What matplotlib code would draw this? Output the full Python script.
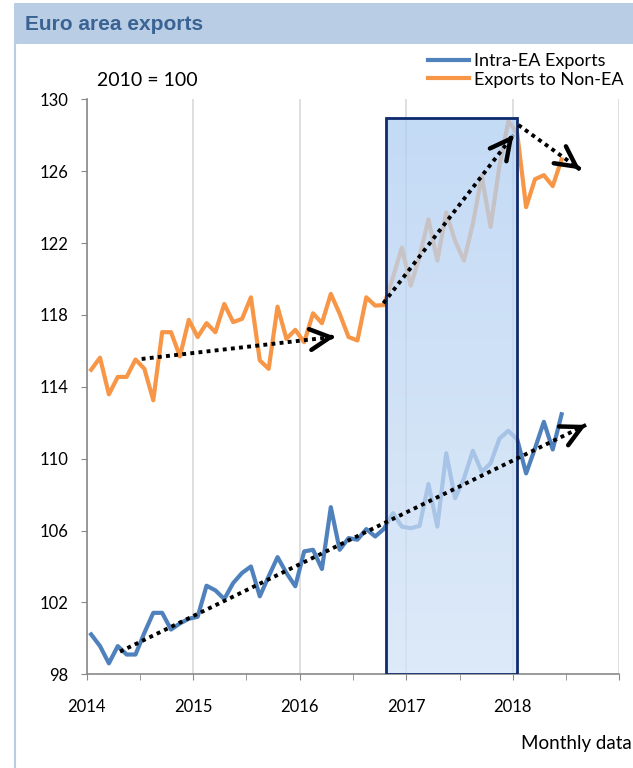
import numpy as np
import matplotlib.pyplot as plt
from matplotlib.patches import Rectangle
from matplotlib.lines import Line2D
from matplotlib.colors import LinearSegmentedColormap

plt.rcParams['font.family'] = ['Lato', 'DejaVu Sans']

# Monthly data, Jan 2014 - Jun 2018 (2010 = 100)
months = np.arange(54)
dates = 2014 + (months + 0.5) / 12

intra_ea = [100.22, 99.57, 98.61, 99.57, 99.1, 99.1, 100.31, 101.42, 101.42, 100.49,
            100.83, 101.09, 101.2, 102.93, 102.67, 102.19, 103.08, 103.64, 104.0, 102.34,
            103.45, 104.52, 103.64, 102.9, 104.84, 104.93, 103.86, 107.3, 104.93, 105.58,
            105.49, 106.08, 105.67, 106.1, 106.97, 106.22, 106.13, 106.26, 108.59, 106.22,
            110.3, 107.8, 108.9, 110.44, 109.27, 109.74, 111.12, 111.55, 111.07, 109.18,
            110.57, 112.05, 110.51, 112.47]

non_ea = [114.95, 115.62, 113.58, 114.55, 114.55, 115.52, 115.0, 113.25, 117.04, 117.04,
          115.69, 117.73, 116.77, 117.54, 117.04, 118.61, 117.6, 117.78, 118.98, 115.47,
          115.0, 118.46, 116.67, 117.17, 116.48, 118.09, 117.54, 119.17, 118.06, 116.77,
          116.58, 118.98, 118.52, 118.55, 120.09, 121.75, 119.63, 121.25, 123.33, 121.02,
          123.7, 122.12, 121.02, 123.06, 125.73, 122.9, 126.3, 128.78, 128.1, 124.0,
          125.55, 125.78, 125.17, 126.66]

year_ticks = [2014, 2015, 2016, 2017, 2018, 2019]
year_labels = ['2014', '2015', '2016', '2017', '2018', '']
y_ticks = [98, 102, 106, 110, 114, 118, 122, 126, 130]

# highlighted period and trend arrows (start, tip)
shade_x = (2016.81, 2018.043)
shade_top = 128.98
arrows = [((2014.516, 115.55), (2016.331, 116.79)),
          ((2016.785, 118.65), (2018.006, 128.01)),
          ((2018.053, 128.57), (2018.632, 126.1)),
          ((2014.313, 99.26), (2018.688, 111.88))]

blue = '#4f81bd'
orange = '#f79646'

fig = plt.figure(figsize=(6.33, 7.68), dpi=100)

# title band
fig.add_artist(Rectangle((14 / 633, 1 - 44 / 768), 1 - 14 / 633, 41 / 768,
                         transform=fig.transFigure, color='#b9cde5', lw=0))
fig.add_artist(Line2D([14.5 / 633, 14.5 / 633], [0, 1 - 44 / 768],
                      transform=fig.transFigure, color='#b9cde5', lw=1.5))
fig.text(25 / 633, 1 - 24 / 768, 'Euro area exports', fontsize=15, fontweight='bold',
         family=['Liberation Sans', 'DejaVu Sans'], color='#3a6393', va='center')

ax = fig.add_axes([86.7 / 633, 1 - 674.3 / 768, (619.3 - 86.7) / 633, (674.3 - 99.3) / 768])

ax.plot(dates, intra_ea, color=blue, lw=3, label='Intra-EA Exports', zorder=2,
        solid_joinstyle='round')
ax.plot(dates, non_ea, color=orange, lw=3, label='Exports to Non-EA', zorder=2,
        solid_joinstyle='round')

# shaded period with vertical gradient
cmap = LinearSegmentedColormap.from_list('shade', ['#d2e3f7', '#b1cff2'])
grad = np.linspace(0, 1, 100).reshape(-1, 1)
ax.imshow(grad, extent=[shade_x[0], shade_x[1], 98, shade_top], origin='lower',
          aspect='auto', cmap=cmap, alpha=0.75, zorder=3)
ax.add_patch(Rectangle((shade_x[0], 98), shade_x[1] - shade_x[0], shade_top - 98,
                       fill=False, edgecolor='#0f2b6b', lw=2, zorder=4))

# dotted trend arrows
for (x0, y0), (x1, y1) in arrows:
    ax.plot([x0, x1], [y0, y1], color='black', lw=2.8, linestyle=(0, (1, 1.1)),
            zorder=5, solid_capstyle='butt')
    xb = x1 - (x1 - x0) * 0.02
    yb = y1 - (y1 - y0) * 0.02
    ax.annotate('', xy=(x1, y1), xytext=(xb, yb),
                arrowprops=dict(arrowstyle='->,head_length=1.45,head_width=0.75',
                                lw=3.2, color='black', shrinkA=0, shrinkB=0),
                zorder=6)

ax.set_xlim(2014, 2019)
ax.set_ylim(98, 130)
ax.set_xticks(year_ticks)
ax.set_xticklabels(year_labels)
ax.set_xticks([2014.5, 2015.5, 2016.5, 2017.5, 2018.5], minor=True)
ax.set_yticks(y_ticks)

ax.grid(axis='x', color='#d9d9d9', lw=1.2, zorder=0)
ax.set_axisbelow(True)
for s in ['top', 'right']:
    ax.spines[s].set_visible(False)
for s in ['left', 'bottom']:
    ax.spines[s].set_color('#898989')
    ax.spines[s].set_linewidth(1.2)

ax.tick_params(axis='x', which='both', direction='out', length=4, color='#898989',
               labelsize=12, pad=14)
ax.tick_params(axis='y', direction='out', length=4, color='#898989', labelsize=12, pad=9)

ax.legend(loc='upper right', bbox_to_anchor=(623.5 / 633, 1 - 53 / 768),
          bbox_transform=fig.transFigure, frameon=False, fontsize=13,
          handlelength=2.3, handletextpad=0.25, labelspacing=0.15, borderpad=0,
          borderaxespad=0)

fig.text(97 / 633, 1 - 80 / 768, '2010 = 100', fontsize=14, va='center')
fig.text(632 / 633, 1 - 743 / 768, 'Monthly data', fontsize=13.5, va='center', ha='right')

fig.savefig('out.png', dpi=100)
